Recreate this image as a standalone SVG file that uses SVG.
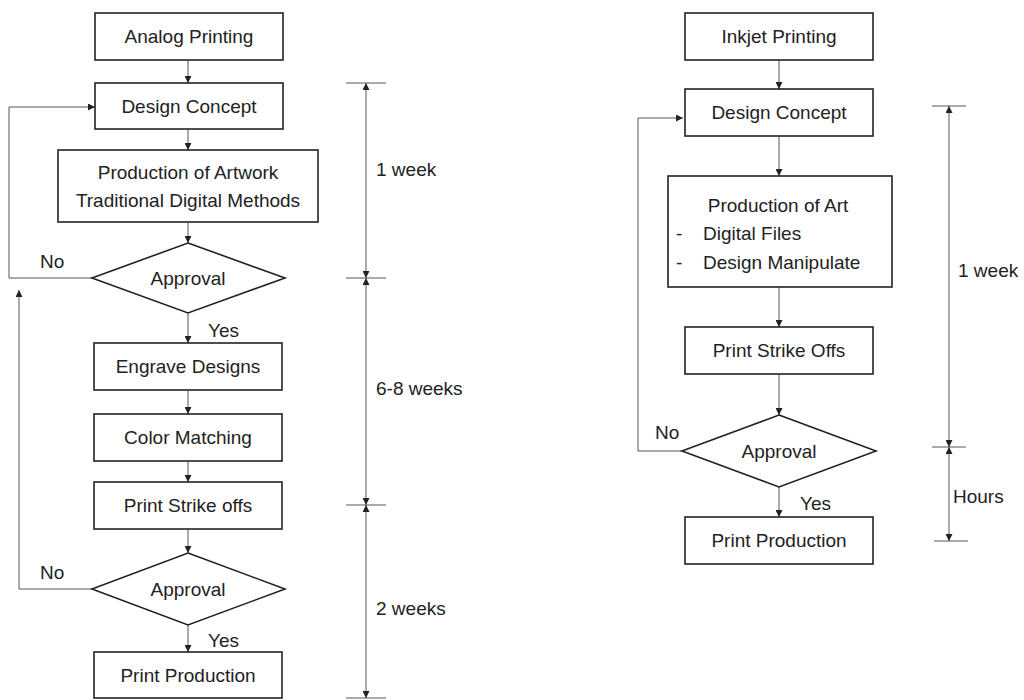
<svg xmlns="http://www.w3.org/2000/svg" width="1024" height="700" viewBox="0 0 1024 700">
<defs>
<marker id="ah" viewBox="0 0 10 10" refX="10" refY="5" markerWidth="7" markerHeight="7" orient="auto-start-reverse" markerUnits="userSpaceOnUse"><path d="M0,0 L10,5 L0,10 z" fill="#222"/></marker>
<style>
.box{fill:#fff;stroke:#222;stroke-width:1.6}
.t{font-family:"Liberation Sans",Arial,sans-serif;font-size:19px;fill:#222;text-anchor:middle}
.l{font-family:"Liberation Sans",Arial,sans-serif;font-size:19px;fill:#222}
.c{fill:none;stroke:#555;stroke-width:1}
.tick{stroke:#555;stroke-width:1}
</style>
</defs>
<rect width="1024" height="700" fill="#fff"/>
<g id="connectors">
<line class="c" x1="188" y1="60" x2="188" y2="83" marker-end="url(#ah)"/>
<line class="c" x1="188" y1="129" x2="188" y2="150" marker-end="url(#ah)"/>
<line class="c" x1="188" y1="222" x2="188" y2="243" marker-end="url(#ah)"/>
<polyline class="c" points="92,278 9,278 9,107 95,107" marker-end="url(#ah)"/>
<line class="c" x1="188" y1="313" x2="188" y2="343" marker-end="url(#ah)"/>
<line class="c" x1="188" y1="390" x2="188" y2="414" marker-end="url(#ah)"/>
<line class="c" x1="188" y1="461" x2="188" y2="482" marker-end="url(#ah)"/>
<line class="c" x1="188" y1="529" x2="188" y2="553" marker-end="url(#ah)"/>
<polyline class="c" points="92,589 19,589 19,290" marker-end="url(#ah)"/>
<line class="c" x1="188" y1="625" x2="188" y2="652" marker-end="url(#ah)"/>
<line class="c" x1="779" y1="60" x2="779" y2="89" marker-end="url(#ah)"/>
<line class="c" x1="779" y1="136" x2="779" y2="176" marker-end="url(#ah)"/>
<line class="c" x1="779" y1="287" x2="779" y2="327" marker-end="url(#ah)"/>
<line class="c" x1="779" y1="374" x2="779" y2="415" marker-end="url(#ah)"/>
<polyline class="c" points="682,451 638,451 638,118 683,118" marker-end="url(#ah)"/>
<line class="c" x1="779" y1="487" x2="779" y2="517" marker-end="url(#ah)"/>
</g>
<g id="timeline-left">
<line class="tick" x1="346" y1="83" x2="386" y2="83"/>
<line class="tick" x1="346" y1="278" x2="386" y2="278"/>
<line class="tick" x1="346" y1="505" x2="386" y2="505"/>
<line class="tick" x1="346" y1="698" x2="386" y2="698"/>
<line class="c" x1="366" y1="83" x2="366" y2="278" marker-start="url(#ah)" marker-end="url(#ah)"/>
<line class="c" x1="366" y1="278" x2="366" y2="505" marker-start="url(#ah)" marker-end="url(#ah)"/>
<line class="c" x1="366" y1="505" x2="366" y2="698" marker-start="url(#ah)" marker-end="url(#ah)"/>
<text class="l" x="376" y="176">1 week</text>
<text class="l" x="376" y="395">6-8 weeks</text>
<text class="l" x="376" y="615">2 weeks</text>
</g>
<g id="timeline-right">
<line class="tick" x1="932" y1="106" x2="966" y2="106"/>
<line class="tick" x1="932" y1="447" x2="966" y2="447"/>
<line class="tick" x1="934" y1="541" x2="968" y2="541"/>
<line class="c" x1="949" y1="106" x2="949" y2="447" marker-start="url(#ah)" marker-end="url(#ah)"/>
<line class="c" x1="949" y1="447" x2="949" y2="541" marker-start="url(#ah)" marker-end="url(#ah)"/>
<text class="l" x="958" y="277">1 week</text>
<text class="l" x="953" y="503">Hours</text>
</g>
<g id="analog-printing"><rect class="box" x="95" y="13" width="188" height="47"/><text class="t" x="189" y="43">Analog Printing</text></g>
<g id="design-concept-1"><rect class="box" x="95" y="83" width="188" height="46"/><text class="t" x="189" y="113">Design Concept</text></g>
<g id="production-artwork"><rect class="box" x="58" y="150" width="260" height="72"/><text class="t" x="188" y="179">Production of Artwork</text><text class="t" x="188" y="207">Traditional Digital Methods</text></g>
<g id="approval-1"><polygon class="box" points="188,243 285,278 188,313 92,278"/><text class="t" x="188" y="285">Approval</text></g>
<text class="l" x="40" y="268">No</text>
<text class="l" x="208" y="337">Yes</text>
<g id="engrave-designs"><rect class="box" x="94" y="343" width="188" height="47"/><text class="t" x="188" y="373">Engrave Designs</text></g>
<g id="color-matching"><rect class="box" x="94" y="414" width="188" height="47"/><text class="t" x="188" y="444">Color Matching</text></g>
<g id="print-strike-offs-1"><rect class="box" x="94" y="482" width="188" height="47"/><text class="t" x="188" y="512">Print Strike offs</text></g>
<g id="approval-2"><polygon class="box" points="188,553 285,589 188,625 92,589"/><text class="t" x="188" y="596">Approval</text></g>
<text class="l" x="40" y="579">No</text>
<text class="l" x="208" y="647">Yes</text>
<g id="print-production-1"><rect class="box" x="94" y="652" width="188" height="46"/><text class="t" x="188" y="682">Print Production</text></g>
<g id="inkjet-printing"><rect class="box" x="685" y="13" width="188" height="47"/><text class="t" x="779" y="43">Inkjet Printing</text></g>
<g id="design-concept-2"><rect class="box" x="685" y="89" width="188" height="47"/><text class="t" x="779" y="119">Design Concept</text></g>
<g id="production-art"><rect class="box" x="668" y="176" width="224" height="111"/><text class="t" x="778" y="212">Production of Art</text><text class="l" x="676" y="240">-</text><text class="l" x="703" y="240">Digital Files</text><text class="l" x="676" y="269">-</text><text class="l" x="703" y="269">Design Manipulate</text></g>
<g id="print-strike-offs-2"><rect class="box" x="685" y="327" width="188" height="47"/><text class="t" x="779" y="357">Print Strike Offs</text></g>
<g id="approval-3"><polygon class="box" points="779,415 876,451 779,487 682,451"/><text class="t" x="779" y="458">Approval</text></g>
<text class="l" x="655" y="439">No</text>
<text class="l" x="800" y="510">Yes</text>
<g id="print-production-2"><rect class="box" x="685" y="517" width="188" height="47"/><text class="t" x="779" y="547">Print Production</text></g>
</svg>
